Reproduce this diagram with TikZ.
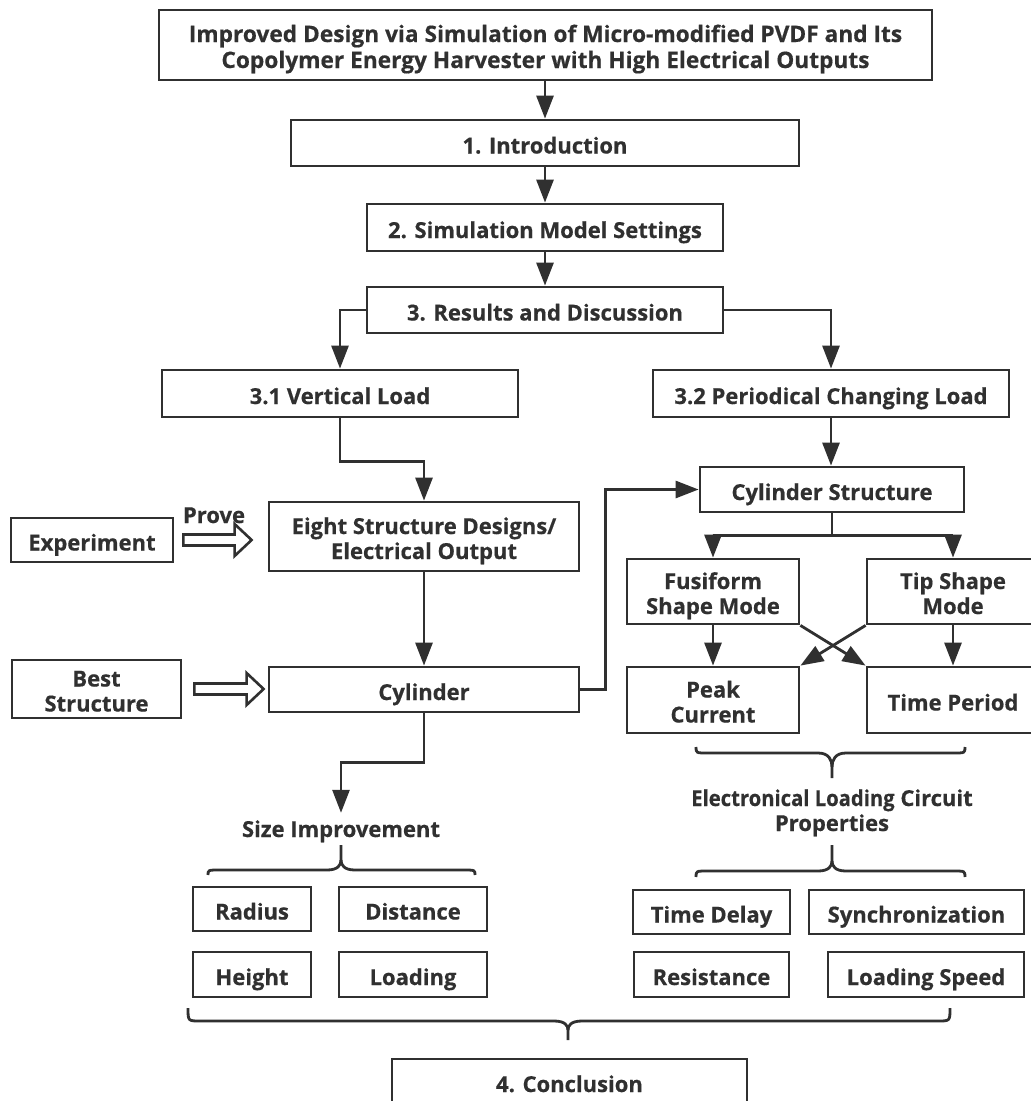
\documentclass[tikz,border=0pt]{standalone}
\usepackage{fontspec}
\usepackage{graphicx}
\setmainfont{Open Sans}[BoldFeatures={FakeBold=0.5}]
\usetikzlibrary{arrows.meta,calc}
\definecolor{ink}{HTML}{303030}
\newcommand\fsz{\fontsize{22}{25}\selectfont\bfseries}
\newcommand\tln{\rule{0pt}{26pt}}
\newcommand\bln{\rule[-6pt]{0pt}{6pt}}
% x1 x2 xc y0 ybar yj ytip
\newcommand\bracex[7]{%
  \draw[ln] (#1,#4) .. controls (#1,#5) .. (#1+12,#5) -- (#3-14,#5) .. controls (#3-3,#5) and (#3,{(#5+#6)/2}) .. (#3,#6) -- (#3,#7);
  \draw[ln] (#3,#6) .. controls (#3,{(#5+#6)/2}) and (#3+3,#5) .. (#3+14,#5) -- (#2-12,#5) .. controls (#2,#5) .. (#2,#4);}
\newcommand\blockarrow[2]{%
  \draw[draw=ink, line width=2.6pt, fill=white, line join=miter] let \p1=#1, \p2=#2 in
   (\x1,\y1+5.5pt) -- (\x2-17pt,\y1+5.5pt) -- (\x2-17pt,\y1+16pt) -- (\x2,\y1) -- (\x2-17pt,\y1-16pt) -- (\x2-17pt,\y1-5.5pt) -- (\x1,\y1-5.5pt) -- cycle;}
\begin{document}
\begin{tikzpicture}[x=1pt,y=-1pt,
  box/.style={draw=ink, line width=2.8pt, inner sep=0pt, text=ink, font=\fsz, fill=white},
  one/.style={text height=21pt, text depth=0pt},
  two/.style={align=center},
  lbl/.style={inner sep=0pt, text=ink, font=\fsz},
  ln/.style={draw=ink, line width=2.8pt},
  arr/.style={draw=ink, line width=2.8pt, -{Triangle[length=23pt,width=17pt]}}]
\path[use as bounding box] (0,0) rectangle (1031,1101);
\clip (0,0) rectangle (1031,1101);
\fill[white] (0,0) rectangle (1031,1101);

% nodes
\node[box, two, minimum width=773pt, minimum height=70pt, font=\fontsize{22.7}{26}\selectfont\bfseries] (title) at (545.5,45)
  {\tln Improved Design via Simulation of Micro-modified PVDF and Its\\Copolymer Energy Harvester with High Electrical Outputs\bln};
\node[box,one,minimum width=508pt,minimum height=46pt] (intro) at (545,143) {1. Introduction};
\node[box,one,minimum width=356pt,minimum height=47pt] (sim) at (545,227.5) {2. Simulation Model Settings};
\node[box,one,minimum width=356pt,minimum height=46pt] (res) at (545,310) {3. Results and Discussion};
\node[box,one,minimum width=356pt,minimum height=47pt] (vl) at (340,393.5) {3.1 Vertical Load};
\node[box,one,minimum width=356pt,minimum height=47pt] (pcl) at (831,393.5) {3.2 Periodical Changing Load};
\node[box,two,minimum width=310pt,minimum height=69pt] (eight) at (424,536.5) {\tln Eight Structure Designs/\\Electrical Output\bln};
\node[box,one,minimum width=162pt,minimum height=44pt] (exp) at (92,540) {Experiment};
\node[lbl,one] (prove) at (214,512.5) {Prove};
\node[box,one,minimum width=310pt,minimum height=45pt] (cyl) at (424,689.5) {Cylinder};
\node[box,two,minimum width=169pt,minimum height=58pt] (best) at (96.5,689) {\tln Best\\Structure\bln};
\node[box,one,minimum width=264pt,minimum height=45pt] (cs) at (832,489.5) {Cylinder Structure};
\node[box,two,minimum width=172pt,minimum height=65pt] (fus) at (713,591.5) {\tln Fusiform\\Shape Mode\bln};
\node[box,two,minimum width=172pt,minimum height=65pt] (tip) at (953,591.5) {\tln Tip Shape\\Mode\bln};
\node[box,two,minimum width=172pt,minimum height=66pt] (peak) at (713,700) {\tln Peak\\Current\bln};
\node[box,one,minimum width=172pt,minimum height=66pt] (time) at (953,700) {Time Period};
\node[lbl,one] (size) at (341,826.5) {Size Improvement};
\node[lbl,two] (elcp) at (832,808.5) {\tln\scalebox{0.92}[1]{Electronical Loading} Circuit\\Properties\bln};
\node[box,one,minimum width=118pt,minimum height=44pt] (radius) at (252,909) {Radius};
\node[box,one,minimum width=148pt,minimum height=44pt] (distance) at (413,909) {Distance};
\node[box,one,minimum width=118pt,minimum height=45pt] (height) at (252,974.5) {Height};
\node[box,one,minimum width=148pt,minimum height=45pt] (loading) at (413,974.5) {Loading};
\node[box,one,minimum width=157pt,minimum height=44pt] (tdelay) at (711.5,912) {Time Delay};
\node[box,one,minimum width=215pt,minimum height=44pt] (sync) at (916.5,912) {Synchronization};
\node[box,one,minimum width=155pt,minimum height=45pt] (resist) at (711.5,974.5) {Resistance};
\node[box,one,minimum width=196pt,minimum height=45pt] (lspeed) at (926,974.5) {Loading Speed};
\node[box,one,minimum width=355pt,minimum height=45pt] (concl) at (569.5,1081.5) {4. Conclusion};

% connectors
\draw[arr] (intro.north |- title.south) -- (intro.north);
\draw[arr] (intro.south) -- (intro.south |- sim.north);
\draw[arr] (sim.south) -- (res.north);
\draw[arr] (res.west) -| (vl.north);
\draw[arr] (res.east) -| (pcl.north);
\draw[arr] (vl.south) -- ++(0,43) -| (eight.north);
\draw[arr] (eight.south) -- (cyl.north);
\draw[arr] (pcl.south) -- (pcl.south |- cs.north);
\draw[arr] (cyl.east) -- ++(25,0) |- (cs.west);
\draw[ln] (cs.south) -- ++(0,22) coordinate (split);
\draw[arr] (split) -| (fus.north);
\draw[arr] (split) -| (tip.north);
\draw[arr] (fus.south) -- (peak.north);
\draw[arr] (tip.south) -- (time.north);
\draw[arr] (fus.south east) -- (time.north west);
\draw[arr] (tip.south west) -- (peak.north east);
\draw[arr, shorten >=3pt] (cyl.south) -- ++(0,49) -| (size.north);

% block arrows
\blockarrow{($(exp.east)+(9,0)$)}{($(eight.west)+(-16,0)$)}
\blockarrow{($(best.east)+(12,0)$)}{($(cyl.west)+(-4,0)$)}

% braces
\bracex{696}{965}{832}{747}{753}{767}{778}
\bracex{208}{475}{341}{875}{870}{860}{845}
\bracex{696}{965}{832}{877}{871}{861}{845}
\bracex{188}{950}{568}{1008}{1021}{1030}{1040}
\end{tikzpicture}
\end{document}
